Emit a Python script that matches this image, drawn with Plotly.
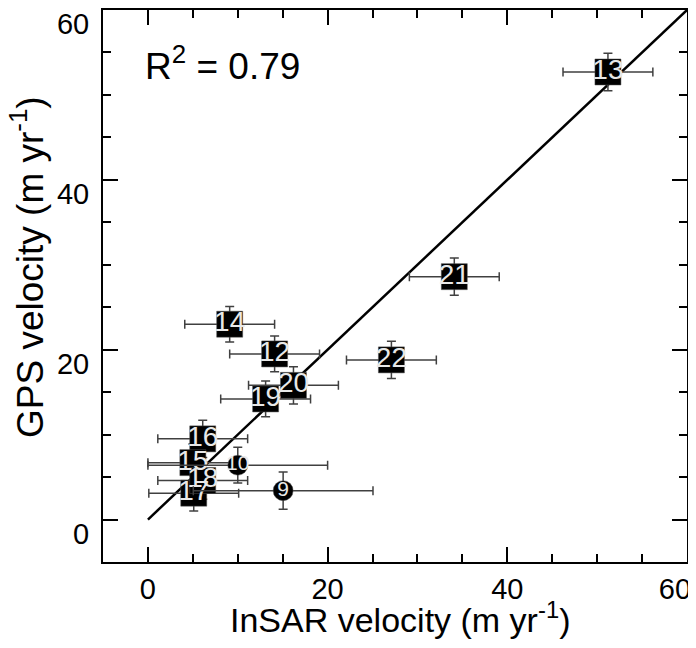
import plotly.graph_objects as go

# Square-marker sites
square_ids = ["13", "21", "22", "14", "12", "20", "19", "16", "15", "17", "18"]
square_insar = [51.2, 34.1, 27.1, 9.1, 14.1, 16.2, 13.1, 6.1, 5.0, 5.1, 6.1]
square_gps = [52.7, 28.6, 18.8, 23.0, 19.5, 15.8, 14.2, 9.5, 6.7, 3.1, 4.6]
square_insar_err = [5, 5, 5, 5, 5, 5, 5, 5, 5, 5, 5]
square_gps_err = [2.2, 2.2, 2.2, 2.1, 2.1, 2.2, 2.1, 2.2, 2.2, 2.1, 2.2]

# Circle-marker sites
circle_ids = ["10", "9"]
circle_insar = [10.0, 15.05]
circle_gps = [6.4, 3.4]
circle_insar_err = [10, 10]
circle_gps_err = [2.1, 2.2]

# 1:1 line
line_x = [0, 60]
line_y = [0, 60]

# Tick values / labels
x_tick_vals = [0, 20, 40, 60]
y_tick_vals = [0, 20, 40, 60]

r2_text = "R<sup>2</sup> = 0.79"
x_title = "InSAR velocity (m yr<sup>-1</sup>)"
y_title = "GPS velocity (m yr<sup>-1</sup>)"

FONT = "Liberation Sans, Arial, sans-serif"
NARROW = "Liberation Sans Narrow, Arial Narrow, Liberation Sans, sans-serif"
ERR_COLOR = "#404040"

# last x label nudged left (padding) so it stays inside the figure
x_tick_text = [str(v) for v in x_tick_vals]
x_tick_text[-1] = x_tick_text[-1] + "\u00a0\u00a0\u00a0"

fig = go.Figure()

fig.add_trace(go.Scatter(
    x=line_x, y=line_y, mode="lines",
    line=dict(color="black", width=2.5),
    hoverinfo="skip", showlegend=False,
))

fig.add_trace(go.Scatter(
    x=square_insar, y=square_gps, mode="markers+text",
    text=square_ids, textposition="middle center",
    textfont=dict(family=NARROW, size=28, color="#e8e8e8"),
    marker=dict(symbol="square", size=26, color="black",
                line=dict(color="#555555", width=0.5)),
    error_x=dict(type="data", array=square_insar_err, color=ERR_COLOR,
                 thickness=1.5, width=4.5),
    error_y=dict(type="data", array=square_gps_err, color=ERR_COLOR,
                 thickness=1.5, width=4.5),
    showlegend=False,
))

fig.add_trace(go.Scatter(
    x=circle_insar, y=circle_gps, mode="markers+text",
    text=circle_ids, textposition="middle center",
    textfont=dict(family=NARROW, size=21, color="#e8e8e8"),
    marker=dict(symbol="circle", size=20, color="black",
                line=dict(color="#555555", width=0.5)),
    error_x=dict(type="data", array=circle_insar_err, color=ERR_COLOR,
                 thickness=1.5, width=4.5),
    error_y=dict(type="data", array=circle_gps_err, color=ERR_COLOR,
                 thickness=1.5, width=4.5),
    showlegend=False,
))

axis_common = dict(
    range=[-5, 60], showline=True, linecolor="black", linewidth=2,
    mirror="ticks", ticks="inside", ticklen=15, tickwidth=2, tickcolor="black",
    showgrid=False, zeroline=False, automargin=False,
    ticklabeloverflow="allow",
    tickfont=dict(family=FONT, size=29, color="black"),
    minor=dict(ticks="inside", ticklen=8, tickwidth=2, tickcolor="black",
               dtick=5, tick0=0, showgrid=False),
)

fig.update_xaxes(**axis_common, tickmode="array",
                 tickvals=x_tick_vals, ticktext=x_tick_text)
fig.update_yaxes(**axis_common, tickmode="array",
                 tickvals=y_tick_vals,
                 ticktext=[str(v) for v in y_tick_vals],
                 ticklabelshift=14, ticklabelstandoff=6)

# axis titles
fig.add_annotation(
    x=0.5, y=0, xref="paper", yref="paper", text=x_title, showarrow=False,
    xanchor="center", yanchor="middle", xshift=5, yshift=-55,
    font=dict(family=FONT, size=34, color="black"),
)
fig.add_annotation(
    x=0, y=0.5, xref="paper", yref="paper", text=y_title, showarrow=False,
    textangle=-90, xanchor="center", yanchor="middle", xshift=-76, yshift=19,
    font=dict(family=FONT, size=37, color="black"),
)

fig.add_annotation(
    x=-0.6, y=53.7, xref="x", yref="y", text=r2_text, showarrow=False,
    xanchor="left", yanchor="middle",
    font=dict(family=FONT, size=37, color="black"),
)

# page body has an 8px margin, so the figure is drawn 8px right/down
fig.update_layout(
    width=688, height=640,
    margin=dict(l=95, r=9, t=2, b=86),
    paper_bgcolor="white", plot_bgcolor="white",
)

fig.write_html("out.html")
